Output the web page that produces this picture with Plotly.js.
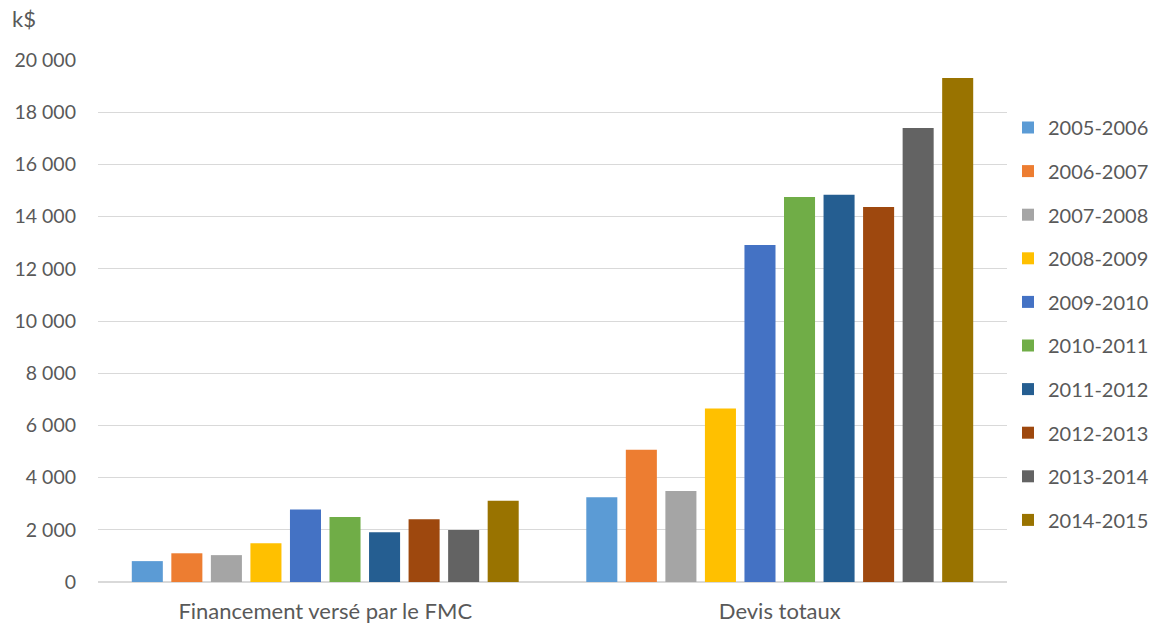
<!DOCTYPE html>
<html>
<head>
<meta charset="utf-8">
<script src="https://cdn.plot.ly/plotly-3.0.1.min.js"></script>
<style>html,body{margin:0;padding:0;background:#fff;}#chart{width:1152px;height:626px;}</style>
</head>
<body>
<div id="chart"></div>
<script>
const categories = ["Financement versé par le FMC", "Devis totaux"];
const seriesNames = ["2005-2006","2006-2007","2007-2008","2008-2009","2009-2010","2010-2011","2011-2012","2012-2013","2013-2014","2014-2015"];
const financement = [800, 1100, 1030, 1480, 2780, 2490, 1910, 2400, 1990, 3110];
const devis = [3250, 5070, 3490, 6650, 12910, 14750, 14840, 14370, 17390, 19310];
const colors = ["#5B9BD5","#ED7D31","#A5A5A5","#FFC000","#4472C4","#70AD47","#255E91","#9E480E","#636363","#997300"];
const yTicks = [0,2000,4000,6000,8000,10000,12000,14000,16000,18000,20000];
const yTickText = ["0","2 000","4 000","6 000","8 000","10 000","12 000","14 000","16 000","18 000","20 000"];

const traces = seriesNames.map((name, i) => ({
  type: 'bar',
  name: name,
  x: categories,
  y: [financement[i], devis[i]],
  marker: {color: colors[i], line: {width: 0}},
  legendgroup: 'g' + i,
  hoverinfo: 'name+y'
}));

const layout = {
  width: 1152, height: 626,
  paper_bgcolor: '#fff', plot_bgcolor: '#fff',
  font: {family: 'Lato, "Open Sans", sans-serif', size: 20, color: '#595959'},
  margin: {l: 98, r: 145, t: 60, b: 44},
  barmode: 'group',
  bargap: 0.13,
  bargroupgap: 0.215,
  title: {text: 'k$', x: 12/1152, xanchor: 'left', xref: 'container', yref: 'container', y: 1 - 19/626, yanchor: 'middle', font: {size: 22, color: '#595959'}},
  xaxis: {showgrid: false, zeroline: false, showline: false, ticks: '', ticklabelstandoff: 14, tickfont: {size: 22, color: '#595959'}},
  yaxis: {range: [0, 20000], tickvals: yTicks, ticktext: yTickText,
          showgrid: true, gridcolor: '#d9d9d9', gridwidth: 1, zeroline: true, zerolinecolor: '#d9d9d9', zerolinewidth: 1.5,
          showline: false, ticks: '', ticklabelstandoff: 21, tickfont: {size: 19.5, color: '#595959'}},
  legend: {xref: 'container', yref: 'container', x: 1008/1152, xanchor: 'left', y: 1 - 324/626, yanchor: 'middle',
           traceorder: 'grouped', tracegroupgap: 14.6, maxheight: 1,
           font: {size: 20, color: '#595959'}, itemwidth: 30, bgcolor: 'rgba(0,0,0,0)'},
  showlegend: true
};

Plotly.newPlot('chart', traces, layout, {displayModeBar: false, staticPlot: true});
</script>
</body>
</html>
